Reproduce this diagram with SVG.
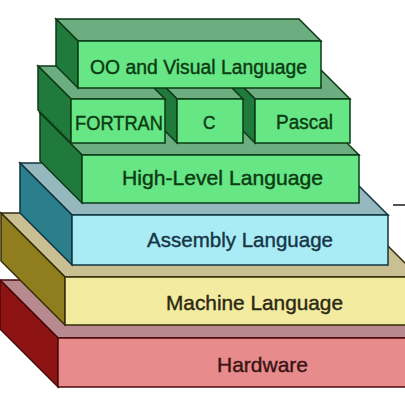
<svg xmlns="http://www.w3.org/2000/svg" width="405" height="404" viewBox="0 0 405 404">
<style>
  text { font-family: "Liberation Sans", Arial, sans-serif; stroke-width: 0.4; }
  .g path, .g rect { stroke: #0b3a15; stroke-width: 1.5; stroke-linejoin: miter; }
  .g .front { fill: #66E685; } .g .top { fill: #6CAE7F; } .g .side { fill: #1F7A3C; }
  .g text { fill: #0c3a12; stroke: #0c3a12; }
  .asm path, .asm rect { stroke: #0e3440; stroke-width: 1.5; }
  .asm .front { fill: #AAECF6; } .asm .top { fill: #94B8BE; } .asm .side { fill: #2B7E8C; }
  .asm text { fill: #163646; stroke: #163646; }
  .mac path, .mac rect { stroke: #332c08; stroke-width: 1.5; }
  .mac .front { fill: #F3EB9F; } .mac .top { fill: #C9BF93; } .mac .side { fill: #8F7D1E; }
  .mac text { fill: #2b2812; stroke: #2b2812; }
  .hw path, .hw rect { stroke: #4a0808; stroke-width: 1.5; }
  .hw .front { fill: #E88B8D; } .hw .top { fill: #B8898F; } .hw .side { fill: #8E1414; }
  .hw text { fill: #3a1414; stroke: #3a1414; }
</style>
<rect width="405" height="404" fill="#ffffff"/>

<g id="hardware" class="hw">
  <path class="top" d="M58,338 L480,338 L422,280 L0,280 Z"/>
  <path class="side" d="M58,338 L0,280 L0,329 L58,387 Z"/>
  <rect class="front" x="58" y="338" width="422" height="49"/>
  <text x="217" y="372" font-size="21" textLength="91" lengthAdjust="spacingAndGlyphs">Hardware</text>
</g>

<g id="machine" class="mac">
  <path class="top" d="M65,277 L419,277 L355,213 L1,213 Z"/>
  <path class="side" d="M65,277 L1,213 L1,261 L65,325 Z"/>
  <rect class="front" x="65" y="277" width="354" height="48"/>
  <text x="166" y="310" font-size="21" textLength="177" lengthAdjust="spacingAndGlyphs">Machine Language</text>
</g>

<g id="assembly" class="asm">
  <path class="top" d="M72,215 L388,215 L336,163 L20,163 Z"/>
  <path class="side" d="M72,215 L20,163 L20,213 L72,265 Z"/>
  <rect class="front" x="72" y="215" width="316" height="50"/>
  <text x="147" y="247" font-size="20.5" textLength="186" lengthAdjust="spacingAndGlyphs">Assembly Language</text>
</g>

<g id="high-level" class="g">
  <path class="top" d="M82,155 L359,155 L317,113 L40,113 Z"/>
  <path class="side" d="M82,155 L40,113 L40,161 L82,203 Z"/>
  <rect class="front" x="82" y="155" width="277" height="48"/>
  <text x="122" y="185" font-size="21" textLength="201" lengthAdjust="spacingAndGlyphs">High-Level Language</text>
</g>

<g id="pascal" class="g">
  <path class="top" d="M255,99 L350,99 L317,66 L222,66 Z"/>
  <path class="side" d="M255,99 L222,66 L222,110 L255,143 Z"/>
  <rect class="front" x="255" y="99" width="95" height="44"/>
  <text x="276" y="129" font-size="20" textLength="57" lengthAdjust="spacingAndGlyphs">Pascal</text>
</g>

<g id="c" class="g">
  <path class="top" d="M177,99 L243,99 L210,66 L144,66 Z"/>
  <path class="side" d="M177,99 L144,66 L144,110 L177,143 Z"/>
  <rect class="front" x="177" y="99" width="66" height="44"/>
  <text x="203" y="128.5" font-size="19" textLength="12.5" lengthAdjust="spacingAndGlyphs">C</text>
</g>

<g id="fortran" class="g">
  <path class="top" d="M71,99 L165,99 L132,66 L38,66 Z"/>
  <path class="side" d="M71,99 L38,66 L38,110 L71,143 Z"/>
  <rect class="front" x="71" y="99" width="94" height="44"/>
  <text x="75" y="130" font-size="20" textLength="88" lengthAdjust="spacingAndGlyphs">FORTRAN</text>
</g>

<g id="oo-visual" class="g">
  <path class="top" d="M78,41 L321,41 L299,19 L56,19 Z"/>
  <path class="side" d="M78,41 L56,19 L56,66 L78,88 Z"/>
  <rect class="front" x="78" y="41" width="243" height="47"/>
  <text x="90" y="74" font-size="20" textLength="217" lengthAdjust="spacingAndGlyphs">OO and Visual Language</text>
</g>

<g id="connectors">
  <line x1="393" y1="205" x2="405" y2="205" stroke="#1a1a1a" stroke-width="1.5"/>
</g>
</svg>
